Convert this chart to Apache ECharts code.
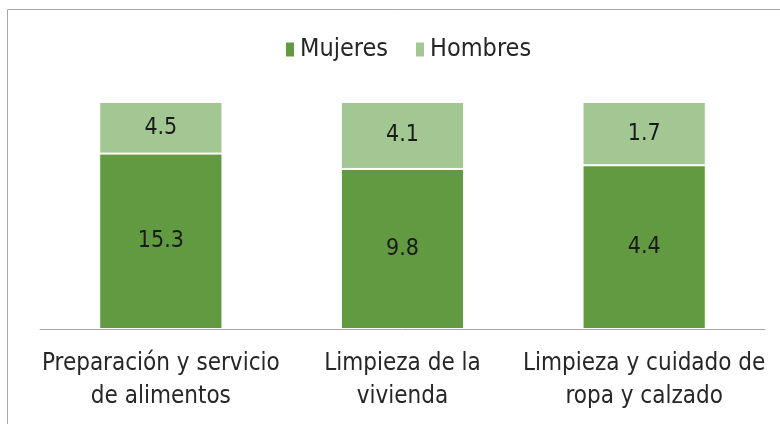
<!DOCTYPE html>
<html>
<head>
<meta charset="utf-8">
<script src="https://cdn.jsdelivr.net/npm/echarts@6/dist/echarts.min.js"></script>
<style>
  html, body { margin: 0; padding: 0; background: #fff; }
  #main { width: 780px; height: 424px; }
</style>
</head>
<body>
<div id="main"></div>
<script>
var categories = ['Preparación y servicio\nde alimentos', 'Limpieza de la\nvivienda', 'Limpieza y cuidado de\nropa y calzado'];
var mujeres = [15.3, 9.8, 4.4];
var hombres = [4.5, 4.1, 1.7];

(function() {
  var myChart = echarts.init(document.getElementById('main'));
  var font = "'Liberation Sans Narrow', 'DejaVu Sans Condensed', sans-serif";

  // barras al 100%: el valor mostrado es el original
  function share(values) {
    return values.map(function(v, i) {
      var total = mujeres[i] + hombres[i];
      return { value: v / total * 100, raw: v };
    });
  }

  function labelFmt(p) {
    return p.data.raw.toFixed(1);
  }

  var option = {
    animation: false,
    textStyle: { fontFamily: font },
    graphic: [{
      type: 'rect',
      shape: { x: 7.5, y: 9.5, width: 800, height: 500 },
      style: { fill: 'none', stroke: '#a6a6a6', lineWidth: 1 },
      silent: true
    }],
    legend: {
      top: 32,
      left: 279,
      itemWidth: 10,
      itemHeight: 16,
      itemGap: 26,
      icon: 'rect',
      textStyle: { fontSize: 25, color: '#262626', fontFamily: font },
      data: ['Mujeres', 'Hombres']
    },
    grid: { left: 40, right: 15, top: 102, bottom: 95 },
    xAxis: {
      type: 'category',
      data: categories,
      axisLine: { lineStyle: { color: '#a6a6a6', width: 1 } },
      axisTick: { show: false },
      axisLabel: { fontSize: 24, color: '#262626', lineHeight: 33, margin: 18, interval: 0, fontFamily: font }
    },
    yAxis: {
      type: 'value',
      min: 0,
      max: 100,
      show: false,
      splitLine: { show: false }
    },
    series: [{
      name: 'Mujeres',
      type: 'bar',
      stack: 'total',
      barWidth: '51%',
      itemStyle: { color: '#629a41', borderColor: '#fff', borderWidth: 1 },
      label: { show: true, position: 'inside', fontSize: 23, color: '#1a1a1a', formatter: labelFmt, fontFamily: font },
      data: share(mujeres)
    }, {
      name: 'Hombres',
      type: 'bar',
      stack: 'total',
      barWidth: '51%',
      itemStyle: { color: '#a3c792', borderColor: '#fff', borderWidth: 1 },
      label: { show: true, position: 'inside', fontSize: 23, color: '#1a1a1a', formatter: labelFmt, fontFamily: font },
      data: share(hombres)
    }]
  };
  myChart.setOption(option);
})();
</script>
</body>
</html>
